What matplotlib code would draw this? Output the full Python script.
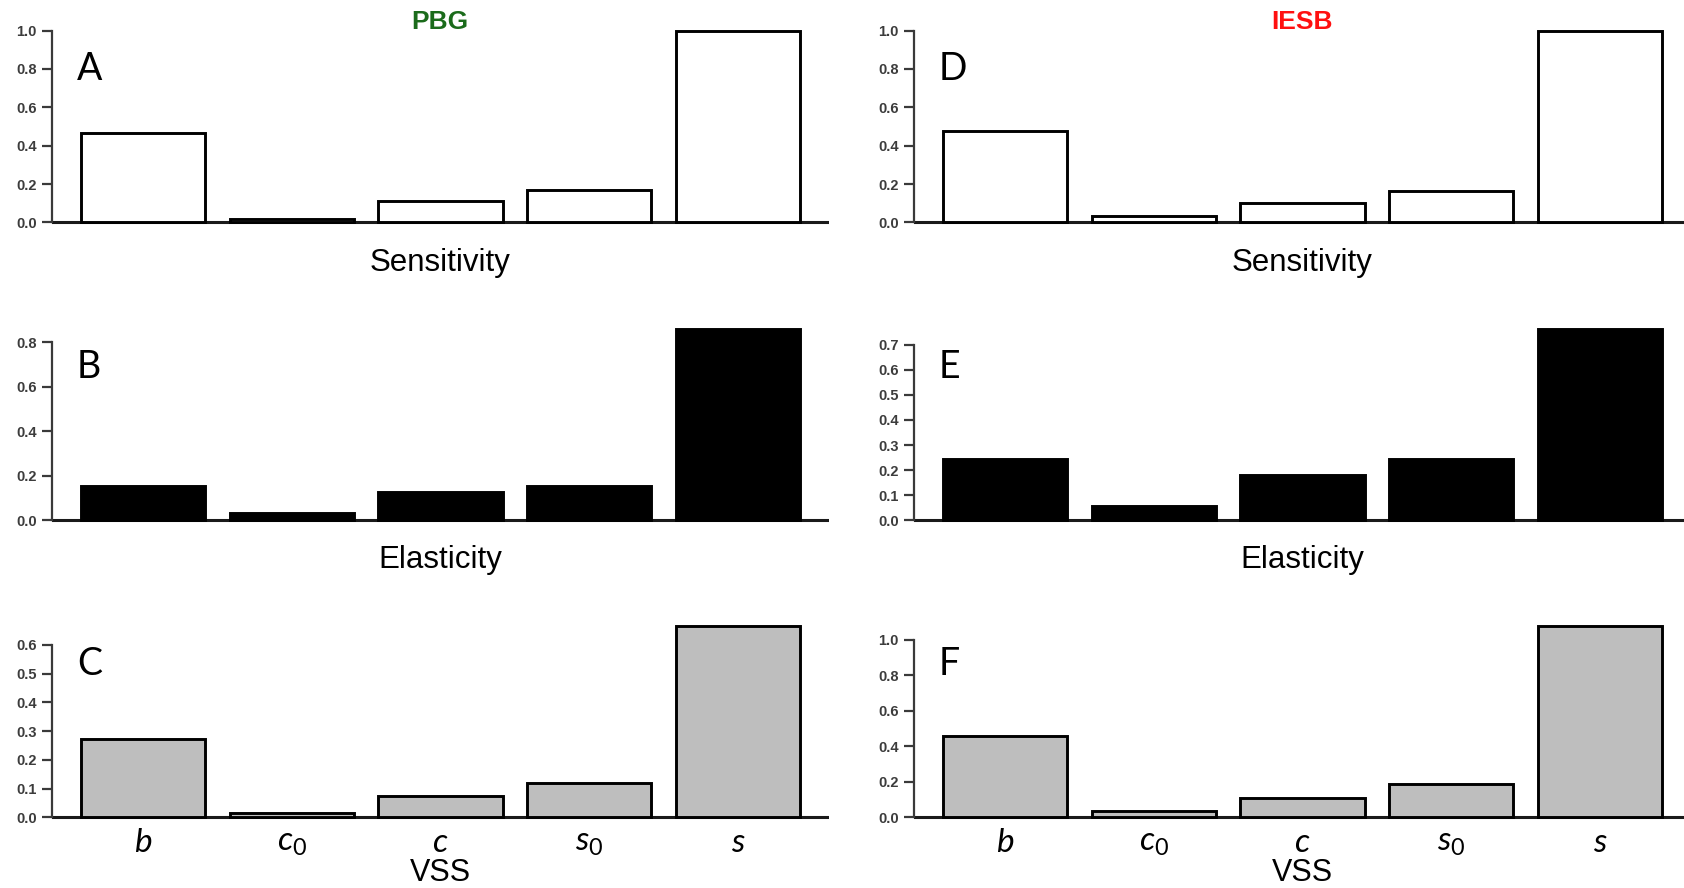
"""Sensitivity and elasticity bar panels for the PBG and IESB populations."""

import matplotlib

matplotlib.use("Agg")
import matplotlib.pyplot as plt
import numpy as np
from matplotlib.transforms import blended_transform_factory

plt.rcParams["font.family"] = ["Lato", "DejaVu Sans"]
plt.rcParams["mathtext.fontset"] = "custom"
plt.rcParams["mathtext.it"] = "Lato:italic"
plt.rcParams["mathtext.rm"] = "Lato"

# vital-rate parameters shown on the x axis
params = ["$b$", "$c_0$", "$c$", "$s_0$", "$s$"]

# PBG population
pbg_sensitivity = [0.467, 0.018, 0.112, 0.170, 1.000]
pbg_elasticity = [0.153, 0.031, 0.126, 0.153, 0.860]
pbg_vss = [0.272, 0.015, 0.073, 0.119, 0.667]

# IESB population
iesb_sensitivity = [0.474, 0.033, 0.100, 0.163, 1.000]
iesb_elasticity = [0.245, 0.059, 0.180, 0.245, 0.764]
iesb_vss = [0.460, 0.036, 0.110, 0.190, 1.080]

# (letter, values, fill, y tick step, y tick max)
left_panels = [
    ("A", pbg_sensitivity, "white", 0.2, 1.0),
    ("B", pbg_elasticity, "black", 0.2, 0.8),
    ("C", pbg_vss, "#bebebe", 0.1, 0.6),
]
right_panels = [
    ("D", iesb_sensitivity, "white", 0.2, 1.0),
    ("E", iesb_elasticity, "black", 0.1, 0.7),
    ("F", iesb_vss, "#bebebe", 0.2, 1.0),
]

W, H = 1684, 888
col_left = [52, 914]
col_width = 777
row_top = [23, 321, 618]
row_height = 207

ARIAL = ["Liberation Sans", "DejaVu Sans"]
TICK_FONT = dict(family=ARIAL, size=10.5, weight="bold", color="#3c3c3c")


def draw_panel(ax, letter, values, fill, step, top, last_row):
    """Barplot in the style of base R: width 1, space 0.2, 4% padding."""
    values = np.asarray(values)
    centers = 0.7 + 1.2 * np.arange(len(values))
    ax.bar(centers, values, width=1.0, color=fill, edgecolor="black",
           linewidth=2.1, zorder=3)
    vmax = values.max()
    ax.set_ylim(-0.04 * vmax, 1.04 * vmax)
    ax.set_xlim(-0.032, 6.232)
    ax.axhline(0, color="#1a1a1a", linewidth=2.2, zorder=2)

    for side in ("top", "right", "bottom"):
        ax.spines[side].set_visible(False)
    ax.spines["left"].set_bounds(0, top)
    ax.spines["left"].set_color("#3a3a3a")
    ax.spines["left"].set_linewidth(1.6)
    ticks = np.round(np.arange(0, top + step / 2, step), 1)
    ax.set_yticks(ticks)
    ax.set_yticklabels([f"{t:.1f}" for t in ticks], fontdict=TICK_FONT)
    ax.tick_params(axis="y", length=7, width=1.6, color="#3a3a3a", pad=4)
    ax.set_xticks([])
    ax.patch.set_visible(False)

    ax.text(0.032, 0.78, letter, transform=ax.transAxes, fontsize=27,
            ha="left", va="center", color="black")

    if last_row:
        trans = blended_transform_factory(ax.transData, ax.transAxes)
        for x, name in zip(centers, params):
            ax.text(x, -0.085, name, transform=trans, fontsize=24,
                    ha="center", va="center")


fig = plt.figure(figsize=(W / 100, H / 100), dpi=100)
for col, panels in enumerate([left_panels, right_panels]):
    for row, (letter, values, fill, step, top) in enumerate(panels):
        rect = [col_left[col] / W, 1 - (row_top[row] + row_height) / H,
                col_width / W, row_height / H]
        ax = fig.add_axes(rect)
        draw_panel(ax, letter, values, fill, step, top, last_row=(row == 2))

for cx, title, colour in [(440, "PBG", "#1b6b1b"), (1302, "IESB", "#ff1010")]:
    fx = cx / W
    fig.text(fx, 1 - 22 / H, title, ha="center", va="center", fontsize=19,
             fontweight="bold", color=colour, family=ARIAL)
    fig.text(fx, 1 - 263 / H, "Sensitivity", ha="center", va="center",
             fontsize=22.5, family=ARIAL)
    fig.text(fx, 1 - 560 / H, "Elasticity", ha="center", va="center",
             fontsize=22.5, family=ARIAL)
    fig.text(fx, 1 - 873 / H, "VSS", ha="center", va="center",
             fontsize=22, family=ARIAL)

fig.savefig("out.png", dpi=100)
